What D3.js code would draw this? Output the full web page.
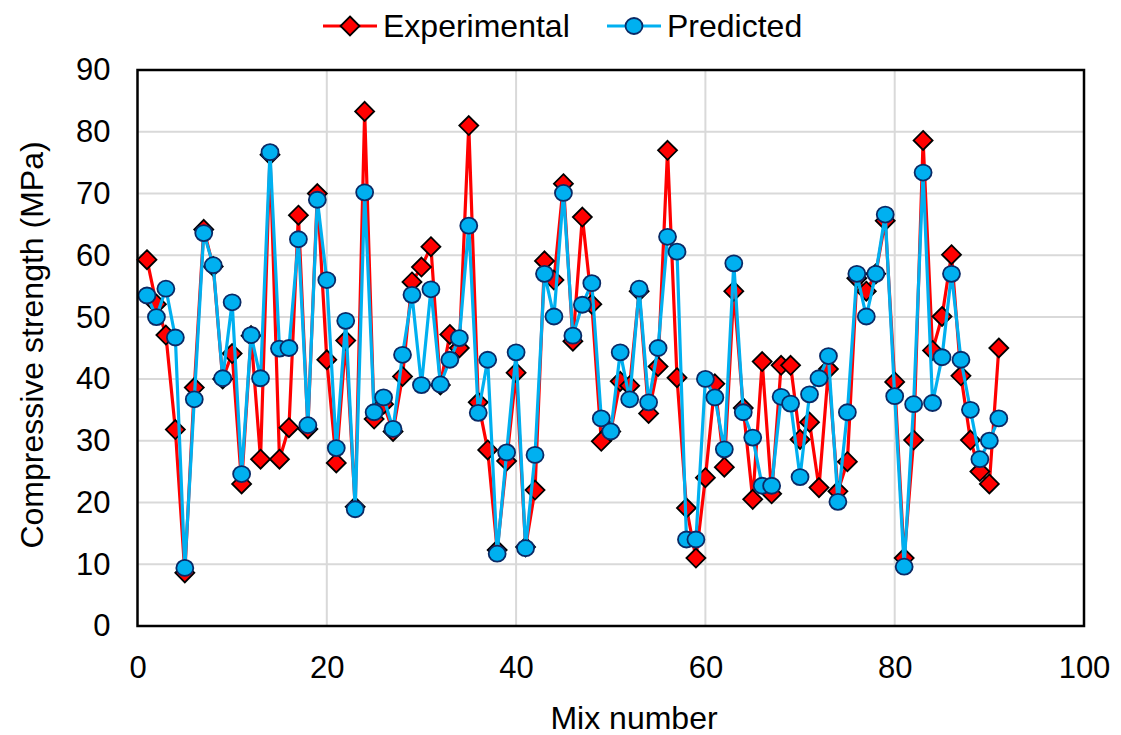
<!DOCTYPE html>
<html>
<head>
<meta charset="utf-8">
<script src="https://cdn.jsdelivr.net/npm/d3@7"></script>
<style>
  html, body { margin: 0; padding: 0; background: #fff; }
  svg { display: block; font-family: "Liberation Sans", Arial, sans-serif; }
</style>
</head>
<body>
<svg id="chart" width="1121" height="735"></svg>
<script>
const mixNumbers = d3.range(1, 92);
const experimental = [
  59.3, 52.1, 47.1, 31.8, 8.6, 38.6, 64.2, 58.2, 40.0, 44.1,
  23.0, 47.0, 27.0, 76.3, 27.0, 32.1, 66.5, 31.9, 70.0, 43.1,
  26.4, 46.2, 19.3, 83.3, 33.5, 35.9, 31.5, 40.4, 55.7, 58.1,
  61.4, 39.0, 47.2, 45.0, 81.0, 36.2, 28.5, 12.3, 26.7, 41.0,
  12.8, 22.0, 59.1, 56.0, 71.6, 46.1, 66.2, 52.1, 29.9, 31.5,
  39.6, 38.9, 54.2, 34.4, 42.0, 77.0, 40.2, 19.1, 11.0, 24.0,
  39.2, 25.7, 54.2, 35.3, 20.5, 42.8, 21.4, 42.2, 42.2, 30.2,
  33.0, 22.4, 41.6, 21.8, 26.6, 56.3, 54.2, 57.0, 65.6, 39.5,
  11.0, 30.1, 78.6, 44.6, 50.1, 60.1, 40.5, 30.1, 25.0, 23.0,
  45.0
];
const predicted = [
  53.5, 50.0, 54.6, 46.7, 9.4, 36.7, 63.6, 58.4, 40.1, 52.4,
  24.6, 47.1, 40.1, 76.7, 44.9, 45.0, 62.6, 32.5, 69.0, 56.0,
  28.8, 49.4, 18.9, 70.2, 34.6, 37.0, 31.9, 43.9, 53.6, 39.0,
  54.5, 39.1, 43.1, 46.6, 64.8, 34.5, 43.1, 11.7, 28.1, 44.3,
  12.6, 27.7, 57.0, 50.1, 70.1, 47.0, 52.0, 55.5, 33.6, 31.5,
  44.3, 36.7, 54.6, 36.2, 45.0, 63.0, 60.6, 14.0, 14.0, 40.0,
  37.0, 28.6, 58.7, 34.6, 30.5, 22.7, 22.7, 37.1, 36.0, 24.1,
  37.5, 40.1, 43.7, 20.1, 34.6, 57.0, 50.1, 57.0, 66.6, 37.2,
  9.6, 35.9, 73.4, 36.1, 43.5, 57.0, 43.1, 35.0, 27.0, 30.0,
  33.6
];
const xTicks = [0, 20, 40, 60, 80, 100];
const yTicks = [0, 10, 20, 30, 40, 50, 60, 70, 80, 90];
const seriesNames = ["Experimental", "Predicted"];

const svg = d3.select("#chart");
const L = 137.5, R = 1084, T = 70, B = 626;
const x = d3.scaleLinear().domain([0, 100]).range([L, R]);
const y = d3.scaleLinear().domain([0, 90]).range([B, T]);

const RED = "#FF0000", BLUE = "#00B0F0", BLUE_STROKE = "#0A2A66";
const FS = 31, FT = 32;

// gridlines
svg.append("g").selectAll("line.gy").data(yTicks.filter(d => d > 0 && d < 90)).join("line")
  .attr("x1", L).attr("x2", R).attr("y1", d => y(d)).attr("y2", d => y(d))
  .attr("stroke", "#D9D9D9").attr("stroke-width", 2);
svg.append("g").selectAll("line.gx").data(xTicks.filter(d => d > 0 && d < 100)).join("line")
  .attr("y1", T).attr("y2", B).attr("x1", d => x(d)).attr("x2", d => x(d))
  .attr("stroke", "#D9D9D9").attr("stroke-width", 2);

// axes (labels only)
const xAxis = svg.append("g").attr("transform", `translate(0,${B})`)
  .call(d3.axisBottom(x).tickValues(xTicks).tickSize(0).tickPadding(36));
const yAxis = svg.append("g").attr("transform", `translate(${L},0)`)
  .call(d3.axisLeft(y).tickValues(yTicks).tickSize(0).tickPadding(27));
[xAxis, yAxis].forEach(a => {
  a.select(".domain").remove();
  a.selectAll("text").attr("font-size", FS).attr("fill", "#000")
    .attr("font-family", "Liberation Sans, Arial, sans-serif");
});
xAxis.selectAll("text").attr("dy", "0.5em");

// series
function drawSeries(vals, color, strokeW) {
  const pts = vals.map((v, i) => [mixNumbers[i], v]);
  svg.append("path").datum(pts)
    .attr("fill", "none").attr("stroke", color).attr("stroke-width", strokeW)
    .attr("stroke-linejoin", "round")
    .attr("d", d3.line().x(d => x(d[0])).y(d => y(d[1])));
  return pts;
}
const expPts = drawSeries(experimental, RED, 3.2);
const diamond = d3.symbol().type(d3.symbolDiamond2).size(230);
svg.append("g").selectAll("path").data(expPts).join("path")
  .attr("transform", d => `translate(${x(d[0])},${y(d[1])})`)
  .attr("d", diamond).attr("fill", RED).attr("stroke", "#000").attr("stroke-width", 1.8);

const predPts = drawSeries(predicted, BLUE, 3.2);
svg.append("g").selectAll("ellipse").data(predPts).join("ellipse")
  .attr("cx", d => x(d[0])).attr("cy", d => y(d[1]))
  .attr("rx", 8.5).attr("ry", 8)
  .attr("fill", BLUE).attr("stroke", BLUE_STROKE).attr("stroke-width", 1.8);

// frame
svg.append("rect").attr("x", L).attr("y", T).attr("width", R - L).attr("height", B - T)
  .attr("fill", "none").attr("stroke", "#000").attr("stroke-width", 2.5);

// axis titles
svg.append("text").attr("x", 634).attr("y", 729).attr("text-anchor", "middle")
  .attr("font-size", FT).text("Mix number");
svg.append("text").attr("transform", `translate(43,${(T + B) / 2 - 3}) rotate(-90)`)
  .attr("text-anchor", "middle").attr("font-size", FT).text("Compressive strength (MPa)");

// legend
const ly = 26;
const leg = svg.append("g");
leg.append("line").attr("x1", 323).attr("x2", 377).attr("y1", ly).attr("y2", ly)
  .attr("stroke", RED).attr("stroke-width", 3.2);
leg.append("path").attr("transform", `translate(350,${ly})`).attr("d", diamond)
  .attr("fill", RED).attr("stroke", "#000").attr("stroke-width", 1.8);
leg.append("text").attr("x", 383).attr("y", ly + 11).attr("font-size", FT).text(seriesNames[0]);
leg.append("line").attr("x1", 607).attr("x2", 661).attr("y1", ly).attr("y2", ly)
  .attr("stroke", BLUE).attr("stroke-width", 3.2);
leg.append("ellipse").attr("cx", 634).attr("cy", ly).attr("rx", 8.5).attr("ry", 8)
  .attr("fill", BLUE).attr("stroke", BLUE_STROKE).attr("stroke-width", 1.8);
leg.append("text").attr("x", 667).attr("y", ly + 11).attr("font-size", FT).text(seriesNames[1]);
</script>
</body>
</html>
